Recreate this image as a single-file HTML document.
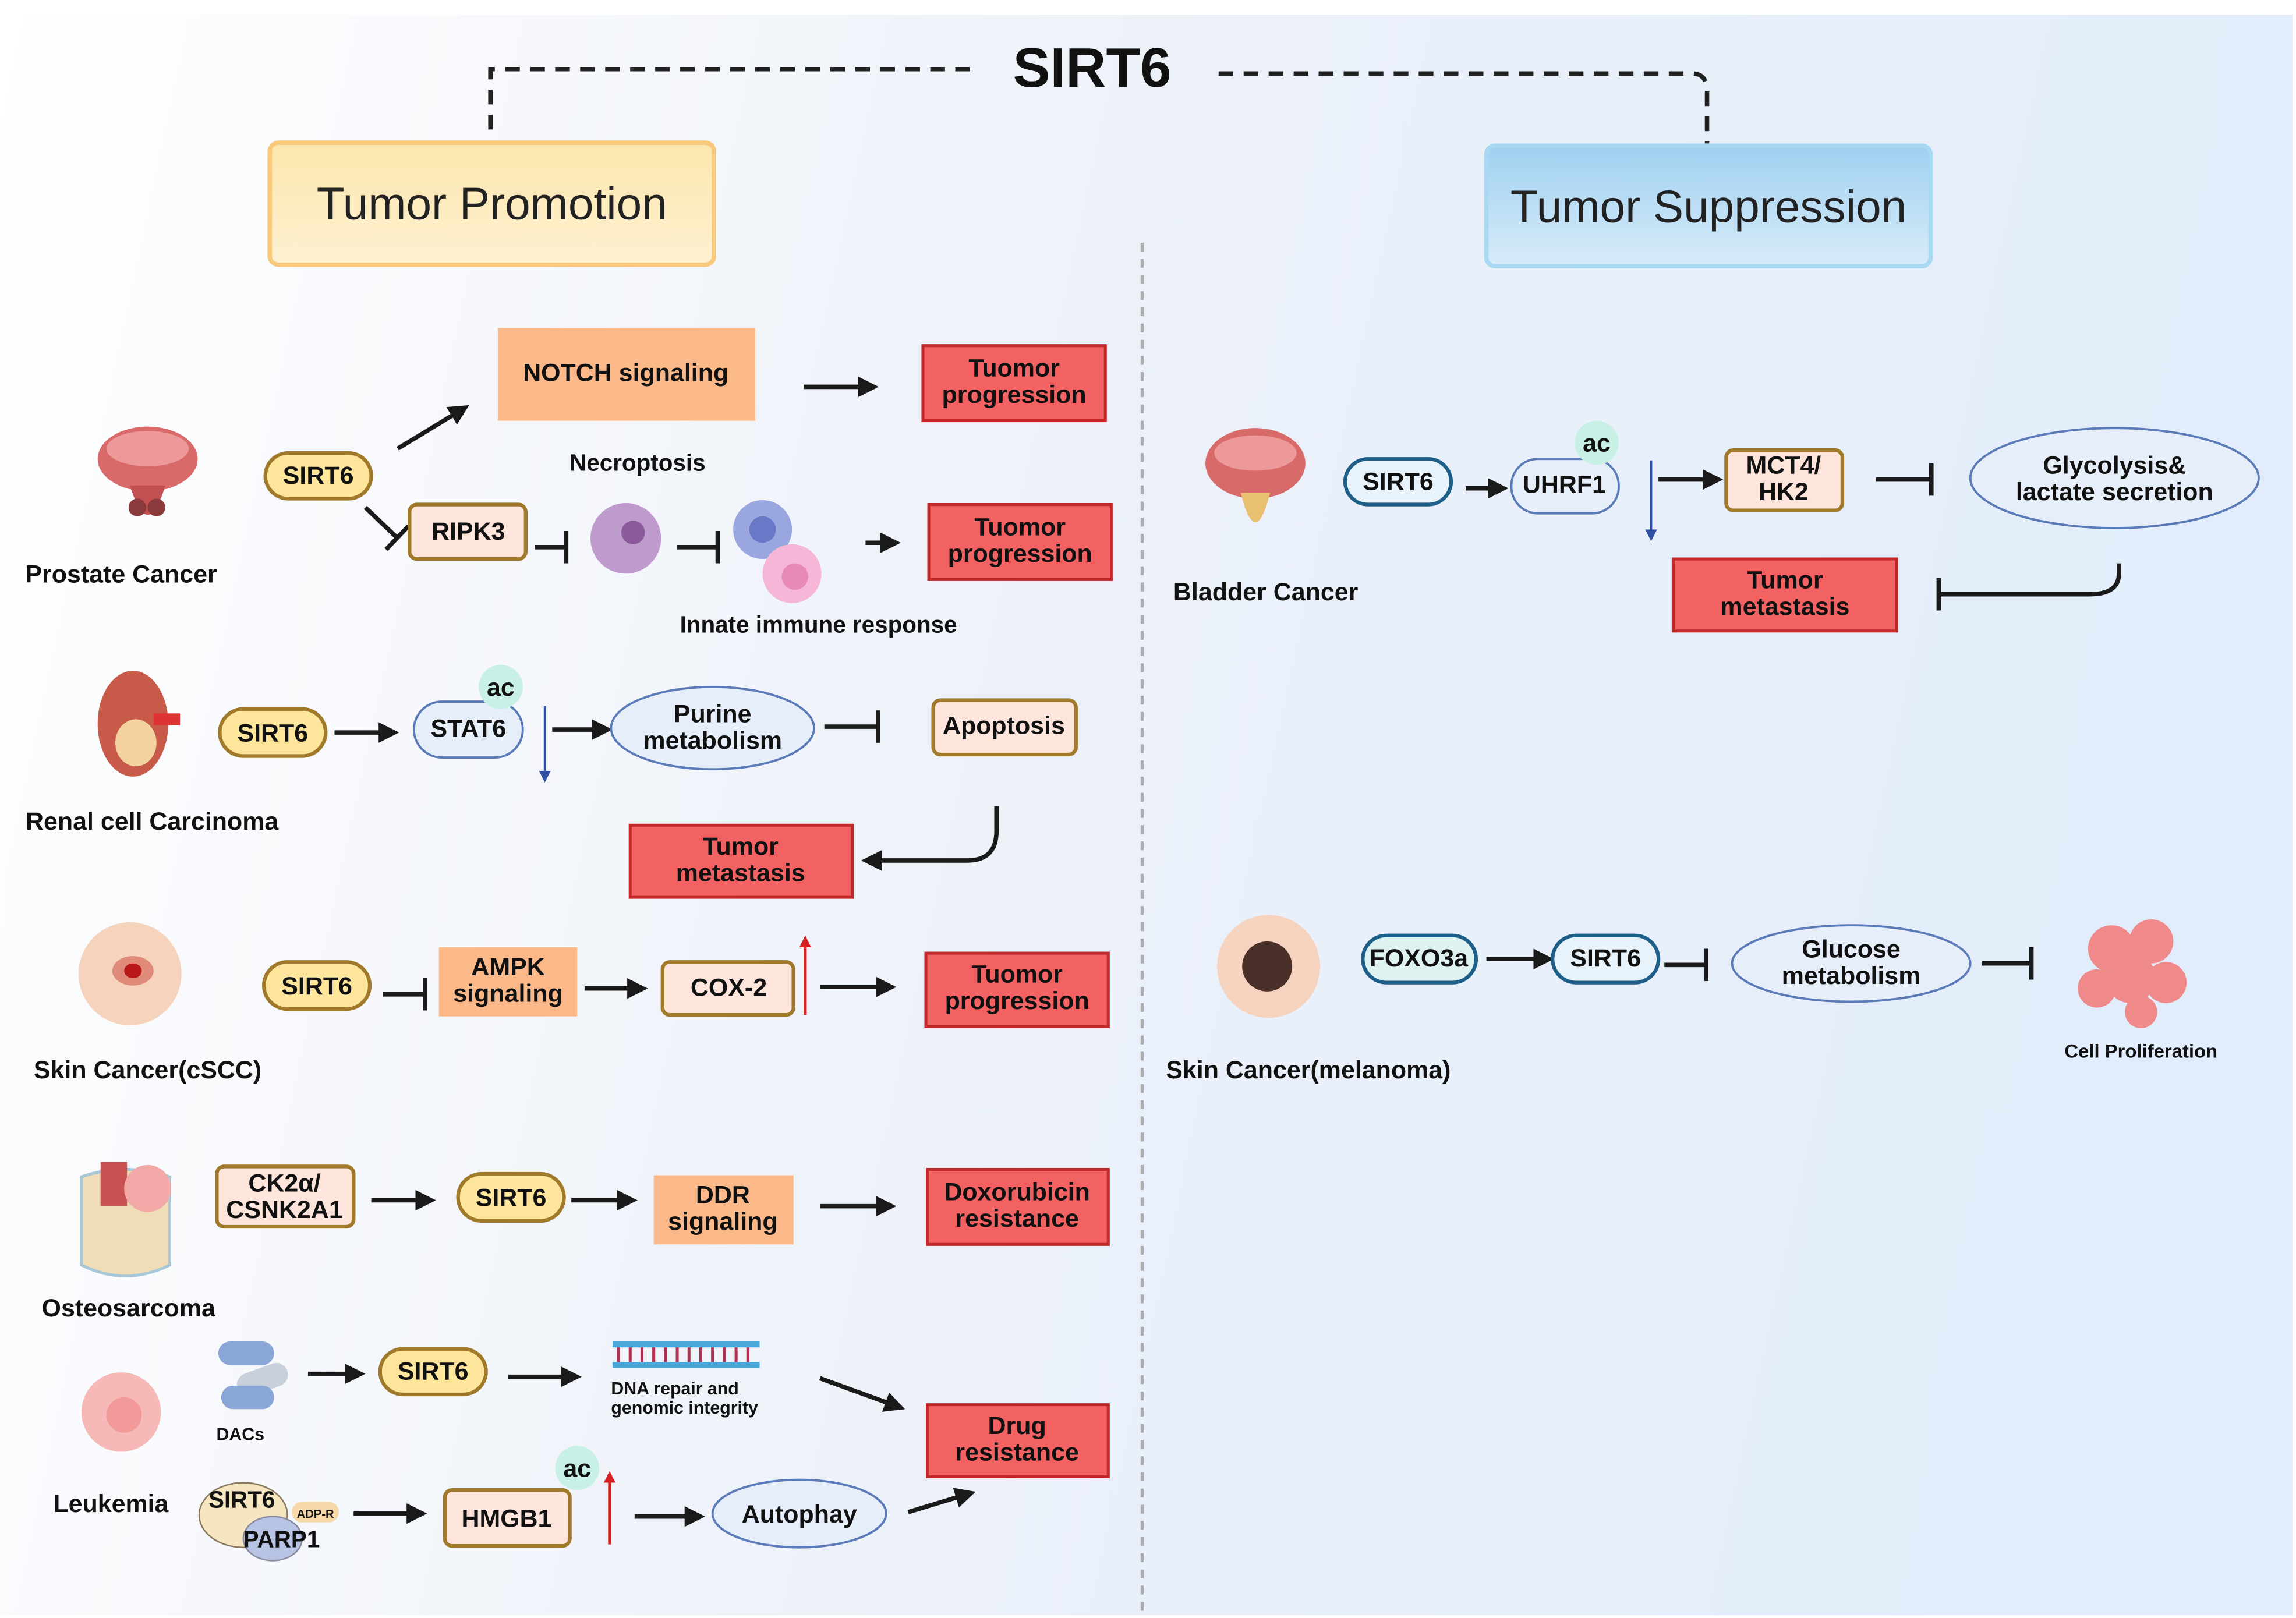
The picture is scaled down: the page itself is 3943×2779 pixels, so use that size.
<!DOCTYPE html>
<html><head><meta charset="utf-8">
<style>
html,body{margin:0;padding:0;background:#fff;}
svg{display:block;}
text{font-family:"Liberation Sans",Arial,sans-serif;}
</style></head><body>
<svg width="3943" height="2779" viewBox="0 0 1560 1100" xmlns="http://www.w3.org/2000/svg">
<defs>
<linearGradient id="bg" x1="0" y1="0" x2="1" y2="0.15">
<stop offset="0" stop-color="#ffffff"/><stop offset="0.45" stop-color="#eef2f9"/><stop offset="1" stop-color="#e2edfb"/></linearGradient>
<linearGradient id="ts" x1="0" y1="0" x2="0" y2="1"><stop offset="0" stop-color="#9fd0f0"/><stop offset="1" stop-color="#d9ecfa"/></linearGradient>
<linearGradient id="tp" x1="0" y1="0" x2="0" y2="1"><stop offset="0" stop-color="#fde6ad"/><stop offset="1" stop-color="#fdf1d2"/></linearGradient>
<marker id="ah" markerWidth="14" markerHeight="14" refX="11" refY="7" orient="auto" markerUnits="userSpaceOnUse"><path d="M0,0 L14,7 L0,14 z" fill="#1a1a1a"/></marker>
<marker id="ahr" markerWidth="8" markerHeight="8" refX="6" refY="4" orient="auto" markerUnits="userSpaceOnUse"><path d="M0,0 L8,4 L0,8 z" fill="#d42020"/></marker>
<marker id="ahb" markerWidth="8" markerHeight="8" refX="6" refY="4" orient="auto" markerUnits="userSpaceOnUse"><path d="M0,0 L8,4 L0,8 z" fill="#3050a0"/></marker>
<marker id="bar" markerWidth="4" markerHeight="22" refX="2" refY="11" orient="auto" markerUnits="userSpaceOnUse"><rect x="0" y="0" width="3" height="22" fill="#1a1a1a"/></marker>
</defs>
<rect x="0" y="0" width="1560" height="1100" fill="#fff"/>
<rect x="0" y="10" width="1558" height="1088" fill="url(#bg)"/>

<!-- title & dashes -->
<text x="742" y="59" font-size="38" font-weight="bold" text-anchor="middle" fill="#111">SIRT6</text>
<path d="M333,88 V47 H660" fill="none" stroke="#222" stroke-width="3" stroke-dasharray="10,7"/>
<path d="M828,50 H1150 Q1160,50 1160,62 V98" fill="none" stroke="#222" stroke-width="3" stroke-dasharray="10,7"/>
<line x1="776" y1="165" x2="776" y2="1095" stroke="#aaa" stroke-width="2" stroke-dasharray="6,5"/>

<rect x="183" y="97" width="302" height="83" rx="6" fill="url(#tp)" stroke="#f8c97a" stroke-width="3"/>
<text x="334" y="149" font-size="31" text-anchor="middle" fill="#222">Tumor Promotion</text>
<rect x="1010" y="99" width="302" height="82" rx="6" fill="url(#ts)" stroke="#a8d8f2" stroke-width="3"/>
<text x="1161" y="151" font-size="31" text-anchor="middle" fill="#222">Tumor Suppression</text>

<g font-size="17" font-weight="bold" fill="#111">
<!-- Prostate -->
<ellipse cx="100" cy="312" rx="34" ry="22" fill="#d96a6a"/><ellipse cx="100" cy="305" rx="28" ry="12" fill="#e99"/>
<path d="M88,330 Q100,370 112,330 z" fill="#c25050"/><circle cx="93" cy="345" r="6" fill="#8a3a3a"/><circle cx="106" cy="345" r="6" fill="#8a3a3a"/>
<text x="82" y="396" text-anchor="middle">Prostate Cancer</text>
<rect x="180" y="308" width="72" height="31" rx="15.5" fill="#fde69c" stroke="#a07a2a" stroke-width="2.5"/><text x="216" y="329" text-anchor="middle">SIRT6</text>
<line x1="270" y1="305" x2="316" y2="277" stroke="#1a1a1a" stroke-width="3" marker-end="url(#ah)"/>
<rect x="338" y="223" width="175" height="63" fill="#fbb98a"/><text x="425" y="259" text-anchor="middle">NOTCH signaling</text>
<line x1="546" y1="263" x2="594" y2="263" stroke="#1a1a1a" stroke-width="3" marker-end="url(#ah)"/>
<rect x="627" y="235" width="124" height="51" fill="#f26262" stroke="#c0282a" stroke-width="2"/><text x="689" y="256" text-anchor="middle">Tuomor</text><text x="689" y="274" text-anchor="middle">progression</text>
<line x1="248" y1="345" x2="270" y2="366" stroke="#1a1a1a" stroke-width="3" marker-end="url(#bar)"/>
<rect x="278" y="343" width="79" height="37" rx="5" fill="#fde5dc" stroke="#a07a2a" stroke-width="2.5"/><text x="318" y="367" text-anchor="middle">RIPK3</text>
<line x1="363" y1="372" x2="385" y2="372" stroke="#1a1a1a" stroke-width="3" marker-end="url(#bar)"/>
<text x="433" y="320" text-anchor="middle" font-size="16">Necroptosis</text>
<circle cx="425" cy="366" r="24" fill="#b48ac4" opacity="0.85"/><circle cx="430" cy="362" r="8" fill="#8a5a9a"/>
<line x1="460" y1="372" x2="488" y2="372" stroke="#1a1a1a" stroke-width="3" marker-end="url(#bar)"/>
<circle cx="518" cy="360" r="20" fill="#9aa6e0"/><circle cx="518" cy="360" r="9" fill="#6a78c8"/>
<circle cx="538" cy="390" r="20" fill="#f6b6d8"/><circle cx="540" cy="392" r="9" fill="#e88ab8"/>
<line x1="588" y1="369" x2="609" y2="369" stroke="#1a1a1a" stroke-width="3" marker-end="url(#ah)"/>
<rect x="631" y="343" width="124" height="51" fill="#f26262" stroke="#c0282a" stroke-width="2"/><text x="693" y="364" text-anchor="middle">Tuomor</text><text x="693" y="382" text-anchor="middle">progression</text>
<text x="556" y="430" text-anchor="middle" font-size="16">Innate immune response</text>

<!-- Renal -->
<ellipse cx="90" cy="492" rx="24" ry="36" fill="#c85a4a"/><ellipse cx="92" cy="505" rx="14" ry="16" fill="#f3d2a0"/><rect x="104" y="485" width="18" height="8" fill="#d33"/>
<text x="103" y="564" text-anchor="middle">Renal cell Carcinoma</text>
<rect x="149" y="482" width="72" height="32" rx="16" fill="#fde69c" stroke="#a07a2a" stroke-width="2.5"/><text x="185" y="504" text-anchor="middle">SIRT6</text>
<line x1="227" y1="498" x2="268" y2="498" stroke="#1a1a1a" stroke-width="3" marker-end="url(#ah)"/>
<rect x="281" y="477" width="74" height="38" rx="19" fill="#e6eefa" stroke="#5a7ab8" stroke-width="1.5"/><text x="318" y="501" text-anchor="middle">STAT6</text>
<circle cx="340" cy="467" r="15" fill="#c9f0e6"/><text x="340" y="473" text-anchor="middle">ac</text>
<line x1="370" y1="480" x2="370" y2="530" stroke="#3050a0" stroke-width="1.5" marker-end="url(#ahb)"/>
<line x1="375" y1="496" x2="413" y2="496" stroke="#1a1a1a" stroke-width="3" marker-end="url(#ah)"/>
<ellipse cx="484" cy="495" rx="69" ry="28" fill="#e6eefa" stroke="#5a7ab8" stroke-width="1.5"/><text x="484" y="491" text-anchor="middle">Purine</text><text x="484" y="509" text-anchor="middle">metabolism</text>
<line x1="560" y1="494" x2="597" y2="494" stroke="#1a1a1a" stroke-width="3" marker-end="url(#bar)"/>
<rect x="634" y="476" width="97" height="37" rx="5" fill="#fde5dc" stroke="#a07a2a" stroke-width="2.5"/><text x="682" y="499" text-anchor="middle">Apoptosis</text>
<path d="M677,548 V565 Q677,585 657,585 H588" fill="none" stroke="#1a1a1a" stroke-width="3" marker-end="url(#ah)"/>
<rect x="428" y="561" width="151" height="49" fill="#f26262" stroke="#c0282a" stroke-width="2"/><text x="503" y="581" text-anchor="middle">Tumor</text><text x="503" y="599" text-anchor="middle">metastasis</text>

<!-- cSCC -->
<circle cx="88" cy="662" r="35" fill="#f6d3bd"/><ellipse cx="90" cy="660" rx="14" ry="10" fill="#e08a7a"/><ellipse cx="90" cy="660" rx="6" ry="5" fill="#b81818"/>
<text x="100" y="733" text-anchor="middle">Skin Cancer(cSCC)</text>
<rect x="179" y="654" width="72" height="32" rx="16" fill="#fde69c" stroke="#a07a2a" stroke-width="2.5"/><text x="215" y="676" text-anchor="middle">SIRT6</text>
<line x1="260" y1="676" x2="289" y2="676" stroke="#1a1a1a" stroke-width="3" marker-end="url(#bar)"/>
<rect x="298" y="644" width="94" height="47" fill="#fbb98a"/><text x="345" y="663" text-anchor="middle">AMPK</text><text x="345" y="681" text-anchor="middle">signaling</text>
<line x1="397" y1="672" x2="437" y2="672" stroke="#1a1a1a" stroke-width="3" marker-end="url(#ah)"/>
<rect x="450" y="654" width="89" height="36" rx="5" fill="#fde5dc" stroke="#a07a2a" stroke-width="2.5"/><text x="495" y="677" text-anchor="middle">COX-2</text>
<line x1="547" y1="690" x2="547" y2="638" stroke="#d42020" stroke-width="2" marker-end="url(#ahr)"/>
<line x1="557" y1="671" x2="606" y2="671" stroke="#1a1a1a" stroke-width="3" marker-end="url(#ah)"/>
<rect x="629" y="648" width="124" height="50" fill="#f26262" stroke="#c0282a" stroke-width="2"/><text x="691" y="668" text-anchor="middle">Tuomor</text><text x="691" y="686" text-anchor="middle">progression</text>

<!-- Osteosarcoma -->
<path d="M55,800 Q85,790 115,800 V860 Q85,875 55,860 z" fill="#f0ddb8" stroke="#a8c8d8" stroke-width="2"/>
<rect x="68" y="790" width="18" height="30" fill="#c85050"/><circle cx="100" cy="808" r="16" fill="#f3a8a8"/>
<text x="87" y="895" text-anchor="middle">Osteosarcoma</text>
<rect x="147" y="793" width="93" height="41" rx="5" fill="#fde5dc" stroke="#a07a2a" stroke-width="2.5"/><text x="193" y="810" text-anchor="middle">CK2α/</text><text x="193" y="828" text-anchor="middle">CSNK2A1</text>
<line x1="252" y1="816" x2="293" y2="816" stroke="#1a1a1a" stroke-width="3" marker-end="url(#ah)"/>
<rect x="311" y="798" width="72" height="32" rx="16" fill="#fde69c" stroke="#a07a2a" stroke-width="2.5"/><text x="347" y="820" text-anchor="middle">SIRT6</text>
<line x1="388" y1="816" x2="430" y2="816" stroke="#1a1a1a" stroke-width="3" marker-end="url(#ah)"/>
<rect x="444" y="799" width="95" height="47" fill="#fbb98a"/><text x="491" y="818" text-anchor="middle">DDR</text><text x="491" y="836" text-anchor="middle">signaling</text>
<line x1="557" y1="820" x2="606" y2="820" stroke="#1a1a1a" stroke-width="3" marker-end="url(#ah)"/>
<rect x="630" y="795" width="123" height="51" fill="#f26262" stroke="#c0282a" stroke-width="2"/><text x="691" y="816" text-anchor="middle">Doxorubicin</text><text x="691" y="834" text-anchor="middle">resistance</text>

<!-- Leukemia -->
<circle cx="82" cy="960" r="27" fill="#f7b8b8"/><circle cx="84" cy="962" r="12" fill="#f29a9a"/>
<text x="75" y="1028" text-anchor="middle">Leukemia</text>
<rect x="148" y="912" width="38" height="16" rx="8" fill="#8aa6d6"/><rect x="160" y="930" width="36" height="16" rx="8" fill="#c8d0dc" transform="rotate(-20 178 938)"/><rect x="150" y="942" width="36" height="16" rx="8" fill="#8aa6d6"/>
<text x="163" y="979" text-anchor="middle" font-size="12">DACs</text>
<line x1="209" y1="934" x2="245" y2="934" stroke="#1a1a1a" stroke-width="3" marker-end="url(#ah)"/>
<rect x="258" y="917" width="72" height="31" rx="15.5" fill="#fde69c" stroke="#a07a2a" stroke-width="2.5"/><text x="294" y="938" text-anchor="middle">SIRT6</text>
<line x1="345" y1="936" x2="392" y2="936" stroke="#1a1a1a" stroke-width="3" marker-end="url(#ah)"/>
<rect x="416" y="912" width="100" height="4" fill="#4aa8d8"/><rect x="416" y="926" width="100" height="4" fill="#4aa8d8"/>
<path d="M420,916 V926 M428,916 V926 M436,916 V926 M444,916 V926 M452,916 V926 M460,916 V926 M468,916 V926 M476,916 V926 M484,916 V926 M492,916 V926 M500,916 V926 M508,916 V926" stroke="#b03050" stroke-width="2"/>
<text x="415" y="948" font-size="12">DNA repair and</text><text x="415" y="961" font-size="12">genomic integrity</text>
<line x1="557" y1="937" x2="612" y2="957" stroke="#1a1a1a" stroke-width="3" marker-end="url(#ah)"/>
<rect x="630" y="955" width="123" height="49" fill="#f26262" stroke="#c0282a" stroke-width="2"/><text x="691" y="975" text-anchor="middle">Drug</text><text x="691" y="993" text-anchor="middle">resistance</text>
<ellipse cx="165" cy="1030" rx="30" ry="22" fill="#f6e6c0" stroke="#8a7a60" stroke-width="1"/><ellipse cx="185" cy="1046" rx="20" ry="15" fill="#b8c4e4" stroke="#8a8aa0" stroke-width="1"/>
<rect x="198" y="1021" width="32" height="14" rx="7" fill="#f6d8a8"/><text x="214" y="1032" text-anchor="middle" font-size="8">ADP-R</text>
<text x="164" y="1025" text-anchor="middle" font-size="16">SIRT6</text><text x="191" y="1052" text-anchor="middle" font-size="16">PARP1</text>
<line x1="240" y1="1029" x2="287" y2="1029" stroke="#1a1a1a" stroke-width="3" marker-end="url(#ah)"/>
<rect x="302" y="1013" width="85" height="38" rx="5" fill="#fde5dc" stroke="#a07a2a" stroke-width="2.5"/><text x="344" y="1038" text-anchor="middle">HMGB1</text>
<circle cx="392" cy="998" r="15" fill="#c9f0e6"/><text x="392" y="1004" text-anchor="middle">ac</text>
<line x1="414" y1="1050" x2="414" y2="1002" stroke="#d42020" stroke-width="2" marker-end="url(#ahr)"/>
<line x1="431" y1="1031" x2="476" y2="1031" stroke="#1a1a1a" stroke-width="3" marker-end="url(#ah)"/>
<ellipse cx="543" cy="1029" rx="59" ry="23" fill="#e6eefa" stroke="#5a7ab8" stroke-width="1.5"/><text x="543" y="1035" text-anchor="middle">Autophay</text>
<line x1="617" y1="1028" x2="660" y2="1015" stroke="#1a1a1a" stroke-width="3" marker-end="url(#ah)"/>

<!-- Bladder -->
<ellipse cx="853" cy="315" rx="34" ry="24" fill="#d96a6a"/><ellipse cx="853" cy="308" rx="28" ry="12" fill="#e99"/><path d="M843,335 Q853,375 863,335 z" fill="#e8c070"/>
<text x="860" y="408" text-anchor="middle">Bladder Cancer</text>
<rect x="914" y="312" width="72" height="31" rx="15.5" fill="#e8f2fb" stroke="#1e5f8a" stroke-width="2.5"/><text x="950" y="333" text-anchor="middle">SIRT6</text>
<line x1="996" y1="332" x2="1022" y2="332" stroke="#1a1a1a" stroke-width="3" marker-end="url(#ah)"/>
<rect x="1027" y="312" width="73" height="37" rx="18" fill="#e6eefa" stroke="#5a7ab8" stroke-width="1.5"/><text x="1063" y="335" text-anchor="middle">UHRF1</text>
<circle cx="1085" cy="301" r="15" fill="#c9f0e6"/><text x="1085" y="307" text-anchor="middle">ac</text>
<line x1="1122" y1="313" x2="1122" y2="366" stroke="#3050a0" stroke-width="1.5" marker-end="url(#ahb)"/>
<line x1="1127" y1="326" x2="1168" y2="326" stroke="#1a1a1a" stroke-width="3" marker-end="url(#ah)"/>
<rect x="1173" y="306" width="79" height="41" rx="5" fill="#fde5dc" stroke="#a07a2a" stroke-width="2.5"/><text x="1212" y="322" text-anchor="middle">MCT4/</text><text x="1212" y="340" text-anchor="middle">HK2</text>
<line x1="1275" y1="326" x2="1313" y2="326" stroke="#1a1a1a" stroke-width="3" marker-end="url(#bar)"/>
<ellipse cx="1437" cy="325" rx="98" ry="34" fill="#e6eefa" stroke="#5a7ab8" stroke-width="1.5"/><text x="1437" y="322" text-anchor="middle">Glycolysis&amp;</text><text x="1437" y="340" text-anchor="middle">lactate secretion</text>
<path d="M1440,383 V390 Q1440,404 1420,404 H1317" fill="none" stroke="#1a1a1a" stroke-width="3" marker-end="url(#bar)"/>
<rect x="1137" y="380" width="152" height="49" fill="#f26262" stroke="#c0282a" stroke-width="2"/><text x="1213" y="400" text-anchor="middle">Tumor</text><text x="1213" y="418" text-anchor="middle">metastasis</text>

<!-- Melanoma -->
<circle cx="862" cy="657" r="35" fill="#f5d3bf"/><circle cx="861" cy="657" r="17" fill="#4a3028"/>
<text x="889" y="733" text-anchor="middle">Skin Cancer(melanoma)</text>
<rect x="926" y="636" width="77" height="32" rx="16" fill="#dff2f2" stroke="#1e5f8a" stroke-width="2.5"/><text x="964" y="657" text-anchor="middle">FOXO3a</text>
<line x1="1010" y1="652" x2="1053" y2="652" stroke="#1a1a1a" stroke-width="3" marker-end="url(#ah)"/>
<rect x="1055" y="636" width="72" height="32" rx="16" fill="#e8f2fb" stroke="#1e5f8a" stroke-width="2.5"/><text x="1091" y="657" text-anchor="middle">SIRT6</text>
<line x1="1131" y1="656" x2="1160" y2="656" stroke="#1a1a1a" stroke-width="3" marker-end="url(#bar)"/>
<ellipse cx="1258" cy="655" rx="81" ry="26" fill="#e6eefa" stroke="#5a7ab8" stroke-width="1.5"/><text x="1258" y="651" text-anchor="middle">Glucose</text><text x="1258" y="669" text-anchor="middle">metabolism</text>
<line x1="1347" y1="655" x2="1381" y2="655" stroke="#1a1a1a" stroke-width="3" marker-end="url(#bar)"/>
<g fill="#f08a8a"><circle cx="1435" cy="645" r="16"/><circle cx="1462" cy="640" r="15"/><circle cx="1448" cy="665" r="17"/><circle cx="1425" cy="672" r="13"/><circle cx="1472" cy="668" r="14"/><circle cx="1455" cy="688" r="11"/></g>
<text x="1455" y="719" text-anchor="middle" font-size="13">Cell Proliferation</text>
</g>
</svg>
</body></html>
